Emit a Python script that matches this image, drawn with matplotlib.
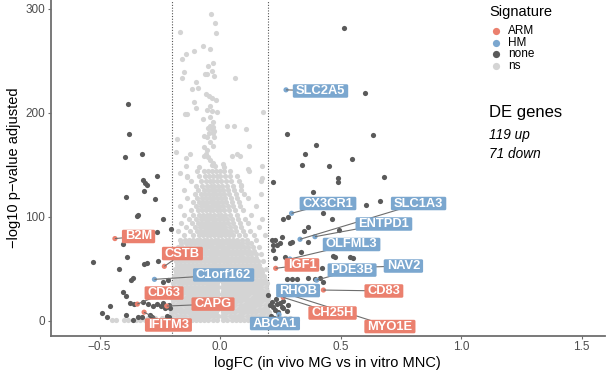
import matplotlib
matplotlib.use("Agg")
import matplotlib.pyplot as plt
from matplotlib.patches import FancyBboxPatch
from matplotlib.transforms import IdentityTransform

plt.rcParams['font.family'] = ['Liberation Sans', 'DejaVu Sans']

# ---------------- data ----------------
# non-significant genes (light grey), dense core given as rows (y, [x...])
ns_rows = [
    (1.0, [-0.205,-0.188,-0.170,-0.152,-0.135,-0.117,-0.100,-0.083,-0.065,-0.048,-0.031,-0.014,0.014,0.031,0.048,0.066,0.083,0.101,0.118,0.136,0.153,0.171,0.189,0.206]),
    (4.5, [-0.198,-0.180,-0.161,-0.144,-0.126,-0.108,-0.091,-0.074,-0.057,-0.040,-0.023,-0.008,0.008,0.022,0.040,0.057,0.075,0.092,0.110,0.127,0.145,0.162,0.180,0.198]),
    (8.0, [-0.203,-0.186,-0.168,-0.150,-0.133,-0.116,-0.099,-0.082,-0.066,-0.049,-0.032,-0.015,0.013,0.030,0.047,0.064,0.082,0.099,0.116,0.134,0.151,0.169,0.186,0.203]),
    (11.5, [-0.196,-0.178,-0.160,-0.142,-0.125,-0.107,-0.090,-0.073,-0.056,-0.040,-0.024,-0.008,0.008,0.023,0.039,0.056,0.073,0.090,0.108,0.125,0.143,0.160,0.178,0.196]),
    (15.0, [-0.201,-0.184,-0.166,-0.149,-0.131,-0.114,-0.097,-0.080,-0.064,-0.047,-0.031,-0.014,0.014,0.030,0.047,0.064,0.081,0.098,0.115,0.132,0.150,0.167,0.185,0.202]),
    (18.5, [-0.194,-0.176,-0.158,-0.141,-0.123,-0.106,-0.089,-0.072,-0.055,-0.039,-0.022,-0.007,0.007,0.022,0.038,0.055,0.072,0.089,0.106,0.124,0.141,0.159,0.176,0.194]),
    (22.0, [-0.199,-0.182,-0.164,-0.147,-0.130,-0.113,-0.096,-0.079,-0.063,-0.046,-0.030,-0.014,0.014,0.030,0.046,0.063,0.080,0.097,0.114,0.131,0.148,0.166,0.183,0.199]),
    (25.5, [-0.192,-0.174,-0.156,-0.139,-0.122,-0.105,-0.088,-0.071,-0.054,-0.038,-0.022,-0.007,0.007,0.021,0.037,0.054,0.071,0.088,0.105,0.122,0.140,0.157,0.175,0.192]),
    (29.0, [-0.196,-0.179,-0.162,-0.145,-0.128,-0.111,-0.094,-0.078,-0.062,-0.045,-0.029,-0.013,0.013,0.029,0.045,0.062,0.079,0.095,0.112,0.129,0.146,0.163,0.180,0.196]),
    (32.5, [-0.188,-0.171,-0.154,-0.137,-0.120,-0.103,-0.087,-0.070,-0.054,-0.037,-0.021,-0.007,0.007,0.021,0.037,0.053,0.070,0.087,0.104,0.121,0.138,0.155,0.172,0.189]),
    (36.0, [-0.193,-0.176,-0.159,-0.142,-0.125,-0.109,-0.092,-0.076,-0.060,-0.044,-0.028,-0.012,0.012,0.028,0.044,0.061,0.077,0.094,0.110,0.127,0.144,0.161,0.177,0.193]),
    (39.5, [-0.185,-0.168,-0.151,-0.134,-0.118,-0.101,-0.085,-0.069,-0.052,-0.036,-0.020,-0.006,0.006,0.020,0.036,0.052,0.069,0.085,0.102,0.118,0.135,0.152,0.169,0.186]),
    (43.0, [-0.190,-0.173,-0.156,-0.139,-0.122,-0.106,-0.090,-0.074,-0.058,-0.042,-0.026,-0.010,0.004,0.019,0.035,0.051,0.067,0.083,0.099,0.116,0.133,0.150,0.167,0.184]),
    (46.5, [-0.182,-0.165,-0.148,-0.132,-0.115,-0.099,-0.083,-0.067,-0.051,-0.035,-0.019,-0.003,0.012,0.028,0.044,0.060,0.076,0.092,0.108,0.125,0.142,0.158,0.176]),
    (50.0, [-0.187,-0.170,-0.152,-0.136,-0.119,-0.103,-0.087,-0.071,-0.055,-0.039,-0.023,-0.008,0.007,0.023,0.039,0.055,0.071,0.087,0.103,0.120,0.136,0.153,0.170,0.190]),
    (53.5, [-0.178,-0.161,-0.144,-0.127,-0.111,-0.095,-0.079,-0.063,-0.047,-0.031,-0.015,0.000,0.015,0.031,0.047,0.063,0.079,0.095,0.111,0.128,0.145,0.162]),
    (57.0, [-0.183,-0.166,-0.149,-0.132,-0.115,-0.099,-0.083,-0.067,-0.051,-0.035,-0.019,-0.004,0.011,0.027,0.043,0.059,0.075,0.091,0.107,0.124,0.141,0.158,0.180]),
    (60.5, [-0.172,-0.155,-0.139,-0.122,-0.106,-0.090,-0.074,-0.058,-0.042,-0.026,-0.011,0.004,0.019,0.035,0.051,0.067,0.083,0.099,0.116,0.133,0.150]),
    (64.0, [-0.178,-0.160,-0.143,-0.127,-0.111,-0.095,-0.079,-0.063,-0.047,-0.032,-0.017,-0.002,0.013,0.029,0.045,0.061,0.077,0.093,0.110,0.128,0.148,0.170]),
    (67.5, [-0.166,-0.149,-0.132,-0.115,-0.099,-0.083,-0.067,-0.052,-0.037,-0.022,-0.007,0.008,0.023,0.039,0.055,0.071,0.087,0.104,0.122,0.141]),
    (71.0, [-0.175,-0.157,-0.139,-0.121,-0.104,-0.088,-0.072,-0.057,-0.042,-0.027,-0.012,0.003,0.018,0.034,0.050,0.066,0.082,0.099,0.117,0.136,0.160]),
    (74.5, [-0.160,-0.142,-0.125,-0.109,-0.093,-0.078,-0.063,-0.048,-0.033,-0.018,-0.003,0.012,0.027,0.043,0.059,0.075,0.092,0.110,0.130]),
    (78.0, [-0.168,-0.146,-0.128,-0.112,-0.097,-0.082,-0.067,-0.052,-0.037,-0.022,-0.007,0.008,0.023,0.039,0.055,0.072,0.090,0.112,0.150]),
    (82.0, [-0.150,-0.110,-0.088,-0.070,-0.055,-0.040,-0.025,-0.010,0.005,0.020,0.036,0.055,0.080,0.105,0.140,0.185]),
    (86.0, [-0.175,-0.125,-0.095,-0.078,-0.062,-0.047,-0.032,-0.017,-0.002,0.013,0.028,0.046,0.068,0.095,0.125]),
    (90.0, [-0.140,-0.105,-0.085,-0.068,-0.053,-0.038,-0.023,-0.008,0.007,0.022,0.040,0.062,0.088,0.160]),
    (94.0, [-0.160,-0.118,-0.092,-0.075,-0.060,-0.045,-0.030,-0.015,0.000,0.016,0.034,0.055,0.085,0.118]),
    (98.0, [-0.130,-0.098,-0.080,-0.064,-0.049,-0.034,-0.019,-0.004,0.011,0.028,0.050,0.075,0.105,0.175]),
    (102.0, [-0.150,-0.110,-0.087,-0.070,-0.055,-0.040,-0.025,-0.010,0.005,0.022,0.043,0.070,0.130]),
    (106.0, [-0.120,-0.092,-0.074,-0.058,-0.043,-0.028,-0.013,0.002,0.018,0.038,0.062,0.095]),
    (110.0, [-0.165,-0.100,-0.080,-0.063,-0.048,-0.033,-0.018,-0.003,0.013,0.032,0.055,0.085,0.150]),
    (114.0, [-0.112,-0.086,-0.069,-0.053,-0.038,-0.023,-0.008,0.008,0.026,0.050,0.078]),
    (118.0, [-0.135,-0.095,-0.074,-0.058,-0.042,-0.027,-0.012,0.004,0.021,0.044,0.072,0.115]),
    (122.0, [-0.105,-0.080,-0.063,-0.047,-0.031,-0.016,0.000,0.017,0.038,0.065,0.100,0.170]),
    (126.0, [-0.150,-0.090,-0.068,-0.051,-0.035,-0.020,-0.004,0.013,0.033,0.058,0.088]),
    (130.0, [-0.098,-0.073,-0.055,-0.039,-0.023,-0.008,0.009,0.028,0.052,0.086]),
    (134.0, [-0.120,-0.080,-0.060,-0.043,-0.027,-0.011,0.005,0.024,0.047,0.078,0.172]),
    (139.0, [-0.138,-0.088,-0.064,-0.046,-0.030,-0.014,0.002,0.020,0.042,0.070]),
    (144.0, [-0.095,-0.068,-0.049,-0.033,-0.017,0.000,0.018,0.040,0.122]),
    (0.5, [-0.45,-0.43,-0.40,-0.38,-0.35,-0.33,-0.31,-0.29,-0.27,-0.25,-0.23,0.22,0.24,0.26,0.28,0.30,0.32]),
    (2.5, [-0.34,-0.30,-0.27,-0.24,-0.22,0.21,0.23,0.25,0.27,0.29]),
]

ns_extra_x = [-0.037,-0.021,-0.018,-0.164,-0.069,-0.041,-0.107,-0.141,-0.156,-0.028,-0.049,-0.035,-0.148,-0.062,-0.053,
              -0.025,-0.159,0.064,-0.100,-0.117,-0.090,-0.058,-0.044,-0.035,-0.017,-0.107,-0.100,-0.041,-0.055,-0.032,
              -0.011,-0.145,-0.136,0.177,-0.041,-0.069,-0.028,-0.041,-0.030,-0.049,-0.035,-0.024,-0.044,-0.028,0.028,
              0.058,0.107,-0.065,-0.055,-0.024,-0.041,-0.178,-0.066,-0.028,0.122,-0.184,-0.124,-0.141,-0.055,-0.068,
              -0.058,-0.048,0.071,0.085,0.049,-0.041,-0.028,-0.035,-0.021,-0.141,-0.087,0.014,0.018,0.173,0.117,
              -0.166,-0.138,0.173,0.086]
ns_extra_y = [294.6,286.6,276.3,277.6,264.5,261.0,259.3,256.1,251.3,247.5,244.9,240.4,239.4,237.2,237.2,
              235.3,233.0,233.7,229.8,222.4,223.4,218.0,216.0,214.4,212.2,210.6,204.2,206.4,202.6,202.0,
              200.7,198.8,198.8,200.4,196.0,194.0,191.4,187.2,186.5,185.0,184.0,182.7,180.8,180.2,187.2,
              187.5,184.3,177.6,177.0,177.0,172.3,174.5,167.3,168.3,168.0,161.9,160.3,156.2,164.1,158.0,
              160.0,157.5,160.5,158.0,158.4,155.0,152.0,150.0,148.5,149.0,148.0,151.0,148.0,148.7,145.6,
              142.4,138.5,136.9,130.5]

# significant genes without signature (dark grey)
none_x = [-0.380,-0.378,-0.393,-0.322,-0.263,-0.318,-0.311,-0.304,-0.315,-0.390,-0.270,-0.339,-0.346,-0.238,-0.263,
          -0.203,-0.404,-0.526,-0.385,-0.420,-0.304,-0.315,-0.256,-0.360,-0.369,-0.238,-0.214,-0.404,-0.392,-0.456,
          -0.488,-0.470,-0.373,-0.357,-0.318,-0.297,-0.279,-0.263,-0.246,-0.235,-0.224,-0.213,-0.228,-0.207,-0.339,
          -0.325,-0.290,-0.221,-0.210,-0.390,-0.360,-0.283,
          0.516,0.602,0.279,0.634,0.398,0.353,0.546,0.339,0.454,0.491,0.491,0.680,0.221,0.387,0.263,0.281,0.429,
          0.463,0.606,0.664,0.366,0.350,0.494,0.228,0.256,0.221,0.249,0.290,0.300,0.366,0.336,0.270,0.470,0.553,
          0.228,0.477,0.422,0.277,0.297,0.318,0.366,0.394,0.415,0.429,0.207,0.221,0.235,0.249,0.256,0.228,0.242,
          0.263,0.277,0.214,0.283,0.200,0.214,0.235,0.221,0.539,0.233,0.260,0.210,0.225]
none_y = [208.0,179.5,157.0,160.0,139.4,135.0,132.5,130.5,124.7,119.0,117.0,101.6,101.0,97.8,85.6,
          87.9,73.4,56.7,61.5,49.4,55.2,54.2,57.4,41.3,38.8,37.5,39.0,27.9,24.0,14.4,
          7.1,3.8,16.7,15.8,18.3,16.0,14.1,15.8,14.1,16.7,13.5,15.4,11.9,11.9,3.8,
          3.3,5.5,4.8,3.8,5.5,0.7,3.8,
          281.0,218.7,179.5,178.6,169.3,160.5,155.8,150.0,149.2,137.0,133.3,138.5,133.5,123.4,97.5,99.4,103.3,
          97.8,111.2,115.1,89.8,86.6,87.2,77.6,80.2,72.8,74.4,74.4,76.0,76.0,66.3,61.5,62.2,60.0,
          60.0,61.5,50.4,40.5,39.8,40.2,40.8,40.5,41.5,37.5,15.1,13.5,15.8,16.7,13.5,10.3,8.7,
          11.9,9.3,18.3,15.1,24.7,77.6,72.8,68.0,61.5,21.0,19.0,5.0,3.0]

# labelled signature genes
genes     = ['B2M', 'CSTB', 'CD63', 'CAPG', 'IFITM3', 'IGF1', 'CD83', 'CH25H', 'MYO1E',
             'SLC2A5', 'CX3CR1', 'SLC1A3', 'ENTPD1', 'OLFML3', 'PDE3B', 'NAV2', 'RHOB', 'ABCA1', 'C1orf162']
signature = ['ARM', 'ARM', 'ARM', 'ARM', 'ARM', 'ARM', 'ARM', 'ARM', 'ARM',
             'HM', 'HM', 'HM', 'HM', 'HM', 'HM', 'HM', 'HM', 'HM', 'HM']
gene_x    = [-0.436, -0.231, -0.343, -0.221, -0.315, 0.231, 0.429, 0.262, 0.268,
             0.274, 0.297, 0.332, 0.394, 0.290, 0.401, 0.520, 0.250, 0.245, -0.272]
gene_y    = [79.0, 52.3, 16.0, 14.1, 8.2, 50.4, 29.5, 22.5, 26.5,
             222.0, 103.3, 78.3, 80.8, 59.3, 39.0, 51.0, 31.0, 6.0, 39.8]
label_x   = [-0.338, -0.156, -0.232, -0.029, -0.214, 0.340, 0.680, 0.467, 0.705,
             0.417, 0.448, 0.824, 0.680, 0.546, 0.548, 0.761, 0.324, 0.228, 0.015]
label_y   = [81.0, 64.6, 26.6, 16.0, -4.1, 53.6, 28.6, 7.4, -5.6,
             220.9, 112.7, 112.7, 93.0, 73.3, 48.7, 52.6, 29.0, -2.7, 44.0]

n_up, n_down = 119, 71
fc_cut = 0.2

# ---------------- style ----------------
col = {'ARM': '#EB806E', 'HM': '#7BA7CF', 'none': '#5A5A5A', 'ns': '#D4D4D4'}
W, H = 610, 373
fig = plt.figure(figsize=(W / 100, H / 100), dpi=100)
L, R, T, B = 50.7, 605.0, 0.0, 335.7
ax = fig.add_axes([L / W, 1 - B / H, (R - L) / W, (B - T) / H])

ns_x, ns_y = [], []
for yv, xs in ns_rows:
    ns_x += xs
    ns_y += [yv] * len(xs)
ns_x += ns_extra_x
ns_y += ns_extra_y

ms = 14
ax.scatter(ns_x, ns_y, s=ms, color=col['ns'], linewidths=0, zorder=1)
ax.scatter(none_x, none_y, s=ms, color=col['none'], linewidths=0, zorder=2)
ax.scatter(gene_x, gene_y, s=ms, color=[col[s] for s in signature], linewidths=0, zorder=3)

ax.axvline(-fc_cut, color='#555555', ls=(0, (1, 1.5)), lw=0.8, zorder=0.5)
ax.axvline(fc_cut, color='#555555', ls=(0, (1, 1.5)), lw=0.8, zorder=0.5)

ax.set_xlim(-0.7025, 1.5975)
ax.set_ylim(-14.4, 308.4)
ax.set_xticks([-0.5, 0.0, 0.5, 1.0, 1.5])
ax.set_xticklabels(['\u22120.5', '0.0', '0.5', '1.0', '1.5'])
ax.set_yticks([0, 100, 200, 300])
for s in ['top', 'right']:
    ax.spines[s].set_visible(False)
for s in ['left', 'bottom']:
    ax.spines[s].set_color('#6E6E6E')
    ax.spines[s].set_linewidth(1.3)
ax.tick_params(axis='both', colors='#6E6E6E', labelcolor='#4D4D4D', labelsize=8.5, length=2.5, width=0.8, pad=1.5)
ax.set_xlabel('logFC (in vivo MG vs in vitro MNC)', fontsize=10.5, labelpad=2)
ax.set_ylabel('\u2212log10 p\u2212value adjusted', fontsize=10.5, labelpad=3)

# labels with segments
texts = []
for g, s, gx, gy, lx, ly in zip(genes, signature, gene_x, gene_y, label_x, label_y):
    ax.plot([gx, lx], [gy, ly], color='#6E6E6E', lw=0.8, zorder=4, solid_capstyle='butt')
    t = ax.text(lx, ly, g, color='white', fontsize=9.3, fontweight='bold', ha='center', va='center', zorder=6)
    texts.append((t, col[s]))

fig.canvas.draw()
rend = fig.canvas.get_renderer()
for t, c in texts:
    bb = t.get_window_extent(rend)
    cx, cy = (bb.x0 + bb.x1) / 2, (bb.y0 + bb.y1) / 2
    w, h = bb.width + 6, 13.5
    p = FancyBboxPatch((cx - w / 2, cy - h / 2), w, h, boxstyle='round,pad=0,rounding_size=1.5',
                       facecolor=c, edgecolor='none', transform=IdentityTransform(), zorder=5, clip_on=False)
    ax.add_patch(p)

# legend (manual, placed in axes fraction)
def axx(px):
    return (px - L) / (R - L)

def axy(py):
    return (B - py) / (B - T)

ax.text(axx(489), axy(12), 'Signature', fontsize=10.5, ha='left', va='center', transform=ax.transAxes)
for lab, py in [('ARM', 31), ('HM', 42.7), ('none', 54.3), ('ns', 66)]:
    ax.plot([axx(496)], [axy(py)], 'o', ms=5.2, color=col[lab], mec='none', transform=ax.transAxes, clip_on=False)
    ax.text(axx(508), axy(py), lab, fontsize=8.5, ha='left', va='center', transform=ax.transAxes)

ax.text(axx(489), axy(113), 'DE genes', fontsize=12, ha='left', va='center', transform=ax.transAxes)
ax.text(axx(489), axy(135), f'{n_up} up', fontsize=9.8, style='italic', ha='left', va='center', transform=ax.transAxes)
ax.text(axx(489), axy(154), f'{n_down} down', fontsize=9.8, style='italic', ha='left', va='center', transform=ax.transAxes)

fig.savefig('out.png', dpi=100)
